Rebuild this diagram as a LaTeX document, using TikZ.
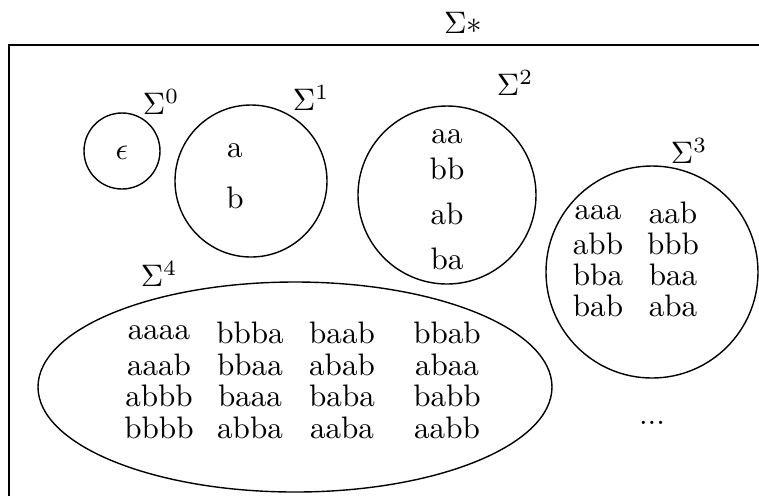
\documentclass[tikz,border=0pt]{standalone}
\usetikzlibrary{positioning}
\tikzset{
  word/.style={inner sep=0pt, anchor=center},
  setname/.style={inner sep=0pt, anchor=center},
  setline/.style={black, line width=0.45pt},
  frameline/.style={black, line width=0.7pt},
}
\begin{document}
\begin{tikzpicture}[x=0.0113cm, y=-0.0113cm]
    \useasboundingbox (0,0) rectangle (759,495);
    \clip (0,0) rectangle (759,495);
    % universe
    \draw[frameline] (9,45) rectangle (800,560);
    \node[setname] (star) at (463,23) {$\Sigma*$};
    % length 0
    \draw[setline] (122,151) circle[radius=38];
    \node[setname] (s0) at (161,102) {$\Sigma^0$};
    \node[word] (eps) at (122,153) {$\epsilon$};
    % length 1
    \draw[setline] (251,181) circle[radius=76];
    \node[setname] (s1) at (311,98) {$\Sigma^1$};
    \node[word] (w1a) at (235,151) {a};
    \node[word] (w1b) at (235,198) {b};
    % length 2
    \draw[setline] (447,195) circle[radius=89];
    \node[setname] (s2) at (515,83) {$\Sigma^2$};
    \foreach \w/\y in {aa/137, bb/169, ab/214, ba/259}
      \node[word] (w2\w) at (447,\y) {\w};
    % length 3
    \draw[setline] (652,272) circle[radius=106];
    \node[setname] (s3) at (689,151) {$\Sigma^3$};
    \foreach \l/\r [count=\i] in {aaa/aab, abb/bbb, bba/baa, bab/aba} {
      \node[word] (w3\l) at (598,182+31*\i) {\l};
      \node[word] (w3\r) at (673,182+31*\i) {\r};
    }
    % length 4
    \draw[setline] (295,387) ellipse[x radius=257, y radius=105];
    \node[setname] (s4) at (159,274) {$\Sigma^4$};
    \foreach \a/\b/\c/\d [count=\i] in {aaaa/bbba/baab/bbab, aaab/bbaa/abab/abaa,
                                       abbb/baaa/baba/babb, bbbb/abba/aaba/aabb} {
      \node[word] (w4\a) at (159,301.5+31.5*\i) {\a};
      \node[word] (w4\b) at (250,301.5+31.5*\i) {\b};
      \node[word] (w4\c) at (342,301.5+31.5*\i) {\c};
      \node[word] (w4\d) at (447,301.5+31.5*\i) {\d};
    }
    \node[word] (more) at (652,423) {...};
\end{tikzpicture}
\end{document}
